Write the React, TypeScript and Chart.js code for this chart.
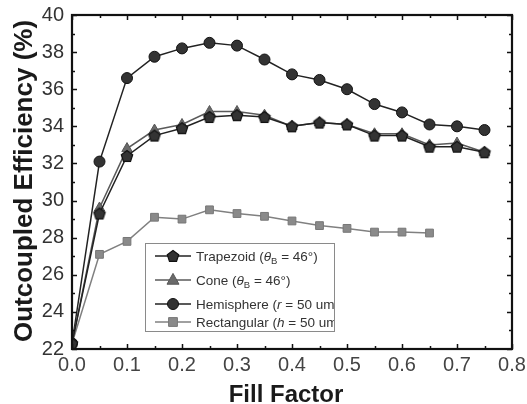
import React, { useEffect, useRef } from "react";
import { Chart, registerables } from "chart.js";

Chart.register(...registerables);

const fillFactor = [0, 0.05, 0.1, 0.15, 0.2, 0.25, 0.3, 0.35, 0.4, 0.45, 0.5, 0.55, 0.6, 0.65, 0.7, 0.75];
const rectFillFactor = [0, 0.05, 0.1, 0.15, 0.2, 0.25, 0.3, 0.35, 0.4, 0.45, 0.5, 0.55, 0.6, 0.65];

const trapezoid = [22.3, 29.3, 32.4, 33.5, 33.9, 34.5, 34.6, 34.5, 34.0, 34.2, 34.1, 33.5, 33.5, 32.9, 32.9, 32.6];
const cone = [22.3, 29.6, 32.8, 33.8, 34.1, 34.8, 34.8, 34.6, 34.0, 34.2, 34.1, 33.6, 33.6, 33.0, 33.1, 32.6];
const hemisphere = [22.3, 32.1, 36.6, 37.75, 38.2, 38.5, 38.35, 37.6, 36.8, 36.5, 36.0, 35.2, 34.75, 34.1, 34.0, 33.8];
const rectangular = [22.3, 27.1, 27.8, 29.1, 29.0, 29.5, 29.3, 29.15, 28.9, 28.65, 28.5, 28.3, 28.3, 28.25];

const xTicks = [0, 0.1, 0.2, 0.3, 0.4, 0.5, 0.6, 0.7, 0.8];
const yTicks = [22, 24, 26, 28, 30, 32, 34, 36, 38, 40];

const FONT = '"Liberation Sans", Arial, Helvetica, sans-serif';

function makePentagon(r: number, fill: string, stroke: string) {
  const size = Math.ceil(2 * r + 4);
  const c = document.createElement("canvas");
  c.width = size;
  c.height = size;
  const g = c.getContext("2d")!;
  const cx = size / 2, cy = size / 2 + 0.5;
  g.beginPath();
  for (let i = 0; i < 5; i++) {
    const a = -Math.PI / 2 + (i * 2 * Math.PI) / 5;
    const px = cx + r * Math.cos(a);
    const py = cy + r * Math.sin(a);
    if (i === 0) g.moveTo(px, py);
    else g.lineTo(px, py);
  }
  g.closePath();
  g.fillStyle = fill;
  g.fill();
  g.lineWidth = 1.2;
  g.strokeStyle = stroke;
  g.stroke();
  return c;
}

type Seg = { t: string; italic?: boolean; sub?: boolean };

function drawRich(ctx: CanvasRenderingContext2D, x: number, y: number, segs: Seg[]) {
  let cx = x;
  for (const s of segs) {
    const size = s.sub ? 9.5 : 13.5;
    ctx.font = `${s.italic ? "italic " : ""}${size}px ${FONT}`;
    ctx.fillText(s.t, cx, y + (s.sub ? 4 : 0));
    cx += ctx.measureText(s.t).width;
  }
}

export default function App() {
  const ref = useRef<HTMLCanvasElement>(null);

  useEffect(() => {
    const canvas = ref.current!;
    const pentagon = makePentagon(6, "#333", "#111");

    const frame = {
      id: "frame",
      afterDraw(chart: any) {
        const ctx = chart.ctx as CanvasRenderingContext2D;
        const { left, right, top, bottom } = chart.chartArea;
        const xs = chart.scales.x;
        const ys = chart.scales.y;
        ctx.save();
        ctx.strokeStyle = "#111";
        ctx.lineWidth = 1.5;
        for (let i = 0; i <= 16; i++) {
          const v = i * 0.05;
          const px = Math.round(xs.getPixelForValue(v)) + 0.5;
          const len = i % 2 === 0 ? 5 : 3;
          ctx.beginPath();
          ctx.moveTo(px, bottom);
          ctx.lineTo(px, bottom - len);
          ctx.moveTo(px, top);
          ctx.lineTo(px, top + len);
          ctx.stroke();
        }
        for (let v = 22; v <= 40; v++) {
          const py = Math.round(ys.getPixelForValue(v)) + 0.5;
          const len = v % 2 === 0 ? 5 : 3;
          ctx.beginPath();
          ctx.moveTo(left, py);
          ctx.lineTo(left + len, py);
          ctx.moveTo(right, py);
          ctx.lineTo(right - len, py);
          ctx.stroke();
        }
        ctx.lineWidth = 2.2;
        ctx.strokeRect(left, top, right - left, bottom - top);

        // axis titles
        ctx.fillStyle = "#1a1a1a";
        ctx.font = `bold 24px ${FONT}`;
        ctx.textAlign = "center";
        ctx.textBaseline = "alphabetic";
        ctx.fillText("Fill Factor", 286, 402);
        ctx.save();
        ctx.translate(32, 181);
        ctx.rotate(-Math.PI / 2);
        ctx.font = `bold 26px ${FONT}`;
        ctx.fillText("Outcoupled Efficiency (%)", 0, 0);
        ctx.restore();

        // legend
        const bx = 145, by = 243, bw = 189, bh = 88;
        ctx.fillStyle = "#fff";
        ctx.fillRect(bx, by, bw, bh);

        const rows: { y: number; ds: number; segs: Seg[] }[] = [
          { y: 256, ds: 0, segs: [{ t: "Trapezoid (" }, { t: "θ", italic: true }, { t: "B", sub: true }, { t: " = 46°)" }] },
          { y: 280, ds: 1, segs: [{ t: "Cone (" }, { t: "θ", italic: true }, { t: "B", sub: true }, { t: " = 46°)" }] },
          { y: 304, ds: 2, segs: [{ t: "Hemisphere (" }, { t: "r", italic: true }, { t: " = 50 um)" }] },
          { y: 322, ds: 3, segs: [{ t: "Rectangular (" }, { t: "h", italic: true }, { t: " = 50 um)" }] },
        ];
        ctx.save();
        ctx.beginPath();
        ctx.rect(bx, by, bw, bh);
        ctx.clip();
        for (const r of rows) {
          const ds = chart.data.datasets[r.ds];
          ctx.strokeStyle = ds.borderColor;
          ctx.lineWidth = 1.5;
          ctx.beginPath();
          ctx.moveTo(155, r.y);
          ctx.lineTo(191, r.y);
          ctx.stroke();
          const ps = ds.pointStyle;
          if (typeof ps !== "string") {
            ctx.drawImage(ps, 173 - ps.width / 2, r.y - ps.height / 2);
          } else {
            ctx.fillStyle = ds.pointBackgroundColor;
            ctx.strokeStyle = ds.pointBorderColor;
            ctx.lineWidth = 1;
            const rad = ds.pointRadius;
            ctx.beginPath();
            if (ps === "circle") {
              ctx.arc(173, r.y, rad, 0, Math.PI * 2);
            } else if (ps === "triangle") {
              ctx.moveTo(173, r.y - rad * 1.1);
              ctx.lineTo(173 + rad, r.y + rad * 0.7);
              ctx.lineTo(173 - rad, r.y + rad * 0.7);
              ctx.closePath();
            } else {
              ctx.rect(173 - rad * 0.8, r.y - rad * 0.8, rad * 1.6, rad * 1.6);
            }
            ctx.fill();
            ctx.stroke();
          }
          ctx.fillStyle = "#333";
          ctx.textAlign = "left";
          ctx.textBaseline = "middle";
          drawRich(ctx, 196, r.y + 1, r.segs);
        }
        ctx.restore();
        ctx.strokeStyle = "#8a8a8a";
        ctx.lineWidth = 1;
        ctx.strokeRect(bx + 0.5, by + 0.5, bw, bh);
        ctx.restore();
      },
    };

    const chart = new Chart(canvas, {
      type: "line",
      data: {
        datasets: [
          {
            label: "Trapezoid",
            data: fillFactor.map((x, i) => ({ x, y: trapezoid[i] })),
            borderColor: "#222",
            borderWidth: 1.5,
            pointStyle: pentagon as any,
            pointBackgroundColor: "#333",
            pointBorderColor: "#111",
          },
          {
            label: "Cone",
            data: fillFactor.map((x, i) => ({ x, y: cone[i] })),
            borderColor: "#5a5a5a",
            borderWidth: 1.5,
            pointStyle: "triangle",
            pointRadius: 6,
            pointBackgroundColor: "#6a6a6a",
            pointBorderColor: "#555",
            pointBorderWidth: 1,
          },
          {
            label: "Hemisphere",
            data: fillFactor.map((x, i) => ({ x, y: hemisphere[i] })),
            borderColor: "#222",
            borderWidth: 1.5,
            pointStyle: "circle",
            pointRadius: 5.5,
            pointBackgroundColor: "#333",
            pointBorderColor: "#111",
            pointBorderWidth: 1,
          },
          {
            label: "Rectangular",
            data: rectFillFactor.map((x, i) => ({ x, y: rectangular[i] })),
            borderColor: "#808080",
            borderWidth: 1.5,
            pointStyle: "rect",
            pointRadius: 5.5,
            pointBackgroundColor: "#8a8a8a",
            pointBorderColor: "#777",
            pointBorderWidth: 1,
          },
        ],
      },
      options: {
        responsive: false,
        animation: false,
        devicePixelRatio: 1,
        layout: { padding: { left: 0, right: 15, top: 15, bottom: 0 } },
        plugins: { legend: { display: false }, tooltip: { enabled: false } },
        elements: { line: { tension: 0 } },
        scales: {
          x: {
            type: "linear",
            min: 0,
            max: 0.8,
            afterBuildTicks: (s: any) => {
              s.ticks = xTicks.map((v) => ({ value: v }));
            },
            afterFit: (s: any) => {
              s.height = 55;
              s.paddingLeft = 0;
              s.paddingRight = 0;
            },
            grid: { display: false, drawTicks: false },
            border: { display: false },
            ticks: {
              padding: 4,
              color: "#444",
              font: { family: FONT, size: 20 },
              maxRotation: 0,
              callback: (v: any) => Number(v).toFixed(1),
            },
          },
          y: {
            type: "linear",
            min: 22,
            max: 40,
            afterBuildTicks: (s: any) => {
              s.ticks = yTicks.map((v) => ({ value: v }));
            },
            afterFit: (s: any) => {
              s.width = 72;
              s.paddingTop = 0;
              s.paddingBottom = 0;
            },
            grid: { display: false, drawTicks: false },
            border: { display: false },
            ticks: {
              padding: 8,
              color: "#333",
              font: { family: FONT, size: 20 },
            },
          },
        },
      },
      plugins: [frame],
    } as any);

    return () => chart.destroy();
  }, []);

  return (
    <div style={{ position: "absolute", left: 0, top: 0, width: 527, height: 404, background: "#fff" }}>
      <canvas ref={ref} width={527} height={404} />
    </div>
  );
}
